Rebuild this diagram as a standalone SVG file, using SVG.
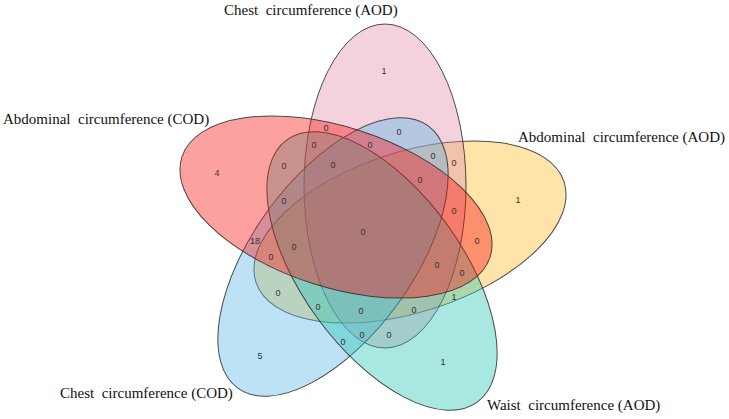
<svg xmlns="http://www.w3.org/2000/svg" width="729" height="419" viewBox="0 0 729 419">
<style>
.set{stroke:#2e2e2e;stroke-width:1;stroke-opacity:0.85;fill-opacity:0.4}
.lbl{font-family:"Liberation Serif","Times New Roman",serif;font-size:15px;fill:#111}
.n{font-family:"Liberation Sans",Arial,sans-serif;font-size:9px;fill:#333;text-anchor:middle}
</style>
<rect width="729" height="419" fill="#fff"/>
<g id="connectors"></g>
<g id="set-abd-aod"><ellipse class="set" cx="410" cy="232" rx="162" ry="80" transform="rotate(-18 410 232)" fill="#fcbb26"/></g>
<g id="set-chest-aod"><ellipse class="set" cx="385" cy="186" rx="81" ry="162" fill="#e18fad"/></g>
<g id="set-chest-cod"><ellipse class="set" cx="333" cy="257" rx="162" ry="80" transform="rotate(-54 333 257)" fill="#5ab6e6"/></g>
<g id="set-waist-aod"><ellipse class="set" cx="382" cy="271" rx="162" ry="80" transform="rotate(54 382 271)" fill="#28c5b1"/></g>
<g id="set-abd-cod"><ellipse class="set" cx="336" cy="207" rx="162" ry="80" transform="rotate(18 336 207)" fill="#fa1212"/></g>
<g id="labels">
<text class="lbl" x="224" y="15" xml:space="preserve">Chest  circumference (AOD)</text>
<text class="lbl" x="3" y="124" xml:space="preserve">Abdominal  circumference (COD)</text>
<text class="lbl" x="518" y="142" xml:space="preserve">Abdominal  circumference (AOD)</text>
<text class="lbl" x="60" y="398" xml:space="preserve">Chest  circumference (COD)</text>
<text class="lbl" x="487" y="410" xml:space="preserve">Waist  circumference (AOD)</text>
</g>
<g id="counts">
<text class="n" x="384" y="74">1</text>
<text class="n" x="217" y="176">4</text>
<text class="n" x="518" y="203">1</text>
<text class="n" x="260" y="359">5</text>
<text class="n" x="443" y="365">1</text>
<text class="n" x="363" y="235">0</text>
<text class="n" x="255" y="244">18</text>
<text class="n" x="326" y="131">0</text>
<text class="n" x="314" y="148">0</text>
<text class="n" x="284" y="169">0</text>
<text class="n" x="333" y="168">0</text>
<text class="n" x="284" y="204">0</text>
<text class="n" x="294" y="250">0</text>
<text class="n" x="399" y="135">0</text>
<text class="n" x="370" y="148">0</text>
<text class="n" x="433" y="159">0</text>
<text class="n" x="454" y="166">0</text>
<text class="n" x="420" y="183">0</text>
<text class="n" x="454" y="214">0</text>
<text class="n" x="477" y="244">0</text>
<text class="n" x="271" y="260">0</text>
<text class="n" x="278" y="296">0</text>
<text class="n" x="318" y="310">0</text>
<text class="n" x="361" y="314">0</text>
<text class="n" x="414" y="313">0</text>
<text class="n" x="343" y="345">0</text>
<text class="n" x="362" y="338">0</text>
<text class="n" x="389" y="338">0</text>
<text class="n" x="437" y="268">0</text>
<text class="n" x="462" y="276">0</text>
<text class="n" x="454" y="300">1</text>
</g>
</svg>
